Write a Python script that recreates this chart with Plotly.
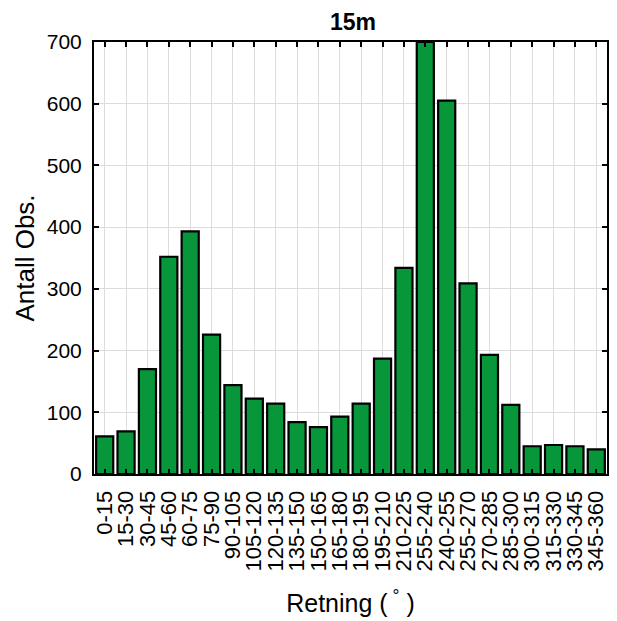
import plotly.graph_objects as go

# Wind direction sectors (degrees) and number of observations at 15 m
sectors = ["0-15", "15-30", "30-45", "45-60", "60-75", "75-90", "90-105",
           "105-120", "120-135", "135-150", "150-165", "165-180", "180-195",
           "195-210", "210-225", "255-240", "240-255", "255-270", "270-285",
           "285-300", "300-315", "315-330", "330-345", "345-360"]
counts = [61, 69, 170, 352, 393, 226, 144, 122, 114, 84, 76, 93, 114,
          187, 334, 700, 605, 309, 193, 112, 45, 47, 45, 40]

y_ticks = [0, 100, 200, 300, 400, 500, 600, 700]

FONT = "Liberation Sans, Arial, sans-serif"

fig = go.Figure(
    go.Bar(
        x=sectors,
        y=counts,
        marker=dict(color="#07973a", line=dict(color="black", width=2.2)),
        cliponaxis=True,
    )
)

fig.update_layout(
    width=617,
    height=621,
    margin=dict(l=94, r=10, t=42, b=147),
    paper_bgcolor="white",
    plot_bgcolor="white",
    bargap=0.2,
    showlegend=False,
    font=dict(family=FONT, color="black"),
    title=dict(
        text="<b>15m</b>",
        x=353 / 617,
        xanchor="center",
        y=1 - 22 / 621,
        yanchor="middle",
        font=dict(family=FONT, size=23, color="black"),
    ),
)

fig.update_xaxes(
    type="category",
    range=[-0.5, len(sectors) - 0.5],
    tickmode="array",
    tickvals=sectors,
    ticktext=sectors,
    tickangle=-90,
    tickfont=dict(family=FONT, size=22, color="black"),
    ticklabelstandoff=6,
    automargin=False,
    showgrid=True,
    gridcolor="#dcdcdc",
    gridwidth=1,
    showline=True,
    linecolor="black",
    linewidth=2,
    mirror="ticks",
    ticks="inside",
    ticklen=5,
    tickwidth=2,
    tickcolor="black",
    title=dict(
        text="Retning (<sup> °</sup> )",
        font=dict(family=FONT, size=25, color="black"),
        standoff=24,
    ),
)

fig.update_yaxes(
    range=[0, 700],
    tickvals=y_ticks,
    tickfont=dict(family=FONT, size=21, color="black"),
    ticklabelstandoff=6,
    automargin=False,
    showgrid=True,
    gridcolor="#dcdcdc",
    gridwidth=1,
    zeroline=False,
    showline=True,
    linecolor="black",
    linewidth=2,
    mirror="ticks",
    ticks="inside",
    ticklen=5,
    tickwidth=2,
    tickcolor="black",
    title=dict(
        text="Antall Obs.",
        font=dict(family=FONT, size=26, color="black"),
        standoff=5,
    ),
)

fig.write_html("out.html")
